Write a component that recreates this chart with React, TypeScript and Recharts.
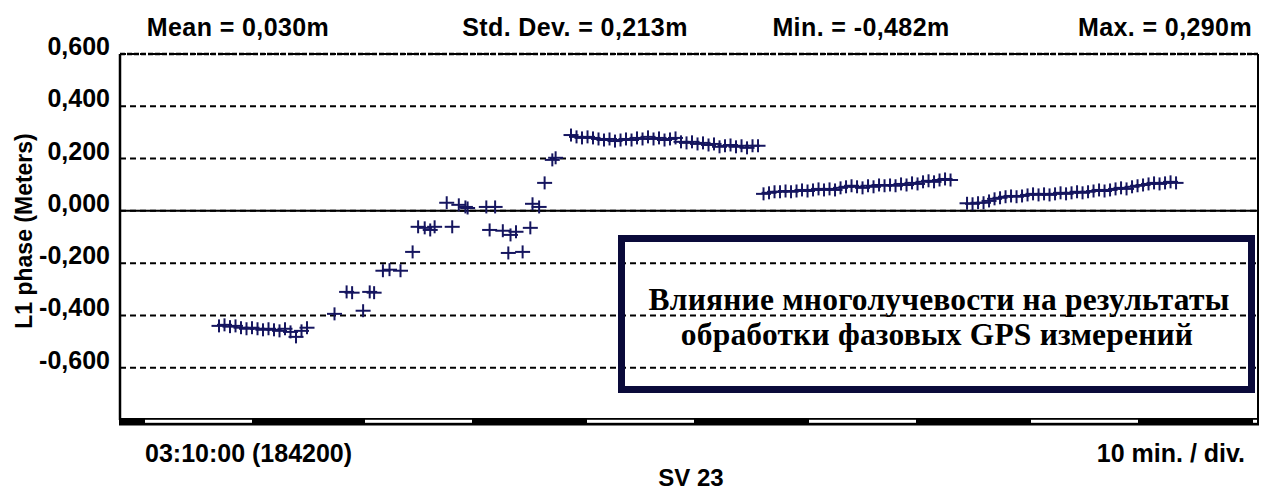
import React from "react";
import { ScatterChart, Scatter, XAxis, YAxis, CartesianGrid, ReferenceLine } from "recharts";

// time in minutes after 03:10:00 (GPS 184200), value in meters
const segment1: [number, number][] = [
  [9.0, -0.44], [9.5, -0.436], [10.0, -0.443], [10.5, -0.44], [11.0, -0.447], [11.5, -0.451],
  [12.0, -0.447], [12.5, -0.451], [13.0, -0.455], [13.5, -0.451], [14.0, -0.455], [14.5, -0.459],
  [15.0, -0.451], [15.5, -0.463], [16.0, -0.482], [16.5, -0.459], [17.0, -0.447],
];

const transition: [number, number][] = [
  [19.5, -0.394], [20.6, -0.31], [21.1, -0.313], [22.1, -0.382], [22.7, -0.31], [23.1, -0.313],
  [23.9, -0.229], [24.5, -0.225], [25.5, -0.229], [26.6, -0.157], [27.1, -0.061], [27.7, -0.065],
  [28.2, -0.073], [28.6, -0.061], [30.2, -0.061], [29.7, 0.031], [30.8, 0.023], [31.4, 0.015],
  [31.6, 0.011], [33.3, 0.015], [34.1, 0.015], [33.6, -0.073], [34.8, -0.076], [35.5, -0.092],
  [36.0, -0.08], [37.3, -0.065], [35.3, -0.161], [36.6, -0.157], [37.5, 0.027], [38.1, 0.015],
  [38.6, 0.107], [39.3, 0.195], [39.6, 0.203],
];

const segment2: [number, number][] = [
  [41.0, 0.29], [41.5, 0.283], [42.0, 0.279], [42.5, 0.283], [43.0, 0.279], [43.5, 0.275],
  [44.0, 0.271], [44.5, 0.275], [45.0, 0.267], [45.5, 0.271], [46.0, 0.275], [46.5, 0.271],
  [47.0, 0.279], [47.5, 0.275], [48.0, 0.283], [48.5, 0.275], [49.0, 0.279], [49.5, 0.271],
  [50.0, 0.275], [50.5, 0.279], [51.0, 0.264], [51.5, 0.26], [52.0, 0.264], [52.5, 0.256],
  [53.0, 0.26], [53.5, 0.252], [54.0, 0.256], [54.5, 0.245], [55.0, 0.249], [55.5, 0.252],
  [56.0, 0.245], [56.5, 0.249], [57.0, 0.241], [57.5, 0.249], [58.0, 0.249],
];

const segment3: [number, number][] = [
  [58.5, 0.065], [59.0, 0.069], [59.5, 0.073], [60.0, 0.073], [60.5, 0.076], [61.0, 0.073],
  [61.5, 0.076], [62.0, 0.08], [62.5, 0.076], [63.0, 0.08], [63.5, 0.084], [64.0, 0.08],
  [64.5, 0.084], [65.0, 0.08], [65.5, 0.088], [66.0, 0.092], [66.5, 0.096], [67.0, 0.092],
  [67.5, 0.088], [68.0, 0.096], [68.5, 0.092], [69.0, 0.099], [69.5, 0.096], [70.0, 0.099],
  [70.5, 0.096], [71.0, 0.103], [71.5, 0.099], [72.0, 0.107], [72.5, 0.103], [73.0, 0.111],
  [73.5, 0.115], [74.0, 0.111], [74.5, 0.118], [75.0, 0.122], [75.5, 0.118],
];

const segment4: [number, number][] = [
  [77.0, 0.029], [77.5, 0.027], [78.0, 0.031], [78.5, 0.031], [79.0, 0.038], [79.5, 0.046],
  [80.0, 0.05], [80.5, 0.054], [81.0, 0.057], [81.5, 0.054], [82.0, 0.057], [82.5, 0.061],
  [83.0, 0.065], [83.5, 0.061], [84.0, 0.065], [84.5, 0.061], [85.0, 0.065], [85.5, 0.069],
  [86.0, 0.065], [86.5, 0.069], [87.0, 0.073], [87.5, 0.069], [88.0, 0.073], [88.5, 0.076],
  [89.0, 0.08], [89.5, 0.076], [90.0, 0.08], [90.5, 0.084], [91.0, 0.088], [91.5, 0.084],
  [92.0, 0.092], [92.5, 0.096], [93.0, 0.099], [93.5, 0.103], [94.0, 0.107], [94.5, 0.103],
  [95.0, 0.107], [95.5, 0.111], [96.0, 0.107],
];

const yTicks = [-0.6, -0.4, -0.2, 0, 0.2, 0.4, 0.6];
const xDomain: [number, number] = [0, 103.45];
const yDomain: [number, number] = [-0.8, 0.6];

const stats = ["Mean = 0,030m", "Std. Dev. = 0,213m", "Min. = -0,482m", "Max. = 0,290m"];
const startLabel = "03:10:00 (184200)";
const scaleLabel = "10 min. / div.";
const satLabel = "SV 23";
const yLabel = "L1 phase (Meters)";
const noteLines = ["Влияние многолучевости на результаты", "обработки фазовых GPS измерений"];

const SANS = "'Liberation Sans', Arial, sans-serif";
const SERIF = "'Liberation Serif', 'Times New Roman', serif";
const MARK = "#15155f";

const toRows = (seg: [number, number][]) => seg.map(([t, v]) => ({ t, v }));
const points = [segment1, transition, segment2, segment3, segment4].flatMap(toRows);

const fmt = (v: number) => (v < 0 ? "-" : "") + Math.abs(v).toFixed(3).replace(".", ",");

const YTick = (props: any) => {
  const { x, y, payload } = props;
  return (
    <text x={x} y={y + 1} textAnchor="end" fontFamily={SANS} fontWeight="bold" fontSize={25} fill="#000">
      {fmt(payload.value)}
    </text>
  );
};

const Plus = (props: any) => {
  const { cx, cy } = props;
  if (cx == null || cy == null) return null;
  return (
    <g>
      <line x1={cx - 7.5} x2={cx + 7.5} y1={cy} y2={cy} stroke={MARK} strokeWidth={2} />
      <line x1={cx} x2={cx} y1={cy - 6.5} y2={cy + 6.5} stroke={MARK} strokeWidth={2} />
    </g>
  );
};

const statX = [238, 575, 861, 1165];
const whiteStarts = [145, 365, 587, 809, 1031, 1253];

export default function App() {
  return (
    <div style={{ position: "relative", width: 1266, height: 492, overflow: "hidden", background: "#fff" }}>
      <style>{`body{margin:0;overflow:hidden;}`}</style>
      <ScatterChart width={1266} height={492} margin={{ top: 54, right: 8, bottom: 72, left: 0 }}>
        <CartesianGrid horizontal vertical={false} stroke="#000" strokeWidth={2} strokeDasharray="6 4" />
        <XAxis type="number" dataKey="t" domain={xDomain} hide allowDataOverflow />
        <YAxis
          type="number"
          dataKey="v"
          domain={yDomain}
          ticks={yTicks}
          width={120}
          axisLine={false}
          tickLine={false}
          tickSize={0}
          tickMargin={10}
          tick={<YTick />}
          interval={0}
          allowDataOverflow
        />
        <ReferenceLine y={0} stroke="#000" strokeWidth={2} />
        <ReferenceLine y={0.6} stroke="#000" strokeWidth={2.6} strokeDasharray="5 2" />
        <ReferenceLine x={xDomain[0]} stroke="#000" strokeWidth={2.5} />
        <ReferenceLine x={xDomain[1]} stroke="#000" strokeWidth={2} />
        <Scatter data={points} dataKey="v" shape={<Plus />} isAnimationActive={false} />
      </ScatterChart>
      <svg width={1266} height={492} style={{ position: "absolute", left: 0, top: 0, pointerEvents: "none" }}>
        {stats.map((s, i) => (
          <text key={s} x={statX[i]} y={36} textAnchor="middle" fontFamily={SANS} fontWeight="bold" fontSize={25} letterSpacing={0.4} fill="#000">
            {s}
          </text>
        ))}
        <text x={32} y={231} transform="rotate(-90 32 231)" textAnchor="middle" fontFamily={SANS} fontWeight="bold" fontSize={23} fill="#000">
          {yLabel}
        </text>
        <rect x={119} y={418} width={1140} height={7.5} fill="#000" />
        {whiteStarts.map((x) => (
          <rect key={x} x={x} y={419.8} width={Math.min(107, 1257 - x)} height={3} fill="#fff" />
        ))}
        <text x={145} y={462} fontFamily={SANS} fontWeight="bold" fontSize={25} fill="#000">{startLabel}</text>
        <text x={1245} y={462} textAnchor="end" fontFamily={SANS} fontWeight="bold" fontSize={25} fill="#000">{scaleLabel}</text>
        <text x={691} y={486} textAnchor="middle" fontFamily={SANS} fontWeight="bold" fontSize={24} fill="#000">{satLabel}</text>
        <rect x={621.5} y={238.5} width={630} height={151} fill="none" stroke="#0a0a3a" strokeWidth={7} />
        <text x={939} y={310} textAnchor="middle" fontFamily={SERIF} fontWeight="bold" fontSize={31.5} letterSpacing={0.2} fill="#000">{noteLines[0]}</text>
        <text x={937} y={345} textAnchor="middle" fontFamily={SERIF} fontWeight="bold" fontSize={31.5} letterSpacing={0.2} fill="#000">{noteLines[1]}</text>
      </svg>
    </div>
  );
}
